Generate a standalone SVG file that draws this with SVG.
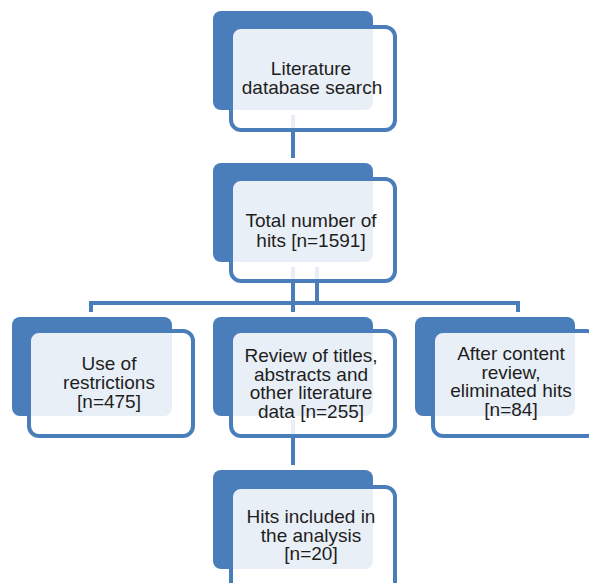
<svg xmlns="http://www.w3.org/2000/svg" width="589" height="583" viewBox="0 0 589 583">
<style>
.back{fill:#4a7ebb}
.front{fill:#ffffff;fill-opacity:0.88;stroke:#4a7ebb;stroke-width:4}
.conn{fill:none;stroke:#4a7ebb;stroke-width:4;stroke-linejoin:miter}
text{font-family:"Liberation Sans",Arial,sans-serif;font-size:19px;fill:#1e1e1e;text-anchor:middle}
</style>
<rect width="589" height="583" fill="#ffffff"/>
<g id="connectors">
<path class="conn" d="M293,115 V158"/>
<path class="conn" d="M293,267 V312"/>
<path class="conn" d="M317,267 V303"/>
<path class="conn" d="M91,312 V303 H518 V312"/>
<path class="conn" d="M293,420 V465"/>
</g>
<g id="n1">
<rect class="back" x="213" y="11" width="160" height="99" rx="8"/>
<rect class="front" x="231" y="27" width="164" height="103" rx="10"/>
<text x="311" y="75">Literature</text>
<text x="312" y="94">database search</text>
</g>
<g id="n2">
<rect class="back" x="213" y="163" width="160" height="99" rx="8"/>
<rect class="front" x="231" y="179" width="164" height="102" rx="10"/>
<text x="311" y="227">Total number of</text>
<text x="311" y="247">hits [n=1591]</text>
</g>
<g id="n3">
<rect class="back" x="12" y="317" width="160" height="99" rx="8"/>
<rect class="front" x="29" y="331" width="164" height="105" rx="10"/>
<text x="109" y="370">Use of</text>
<text x="109" y="389">restrictions</text>
<text x="109" y="408">[n=475]</text>
</g>
<g id="n4">
<rect class="back" x="213" y="317" width="160" height="99" rx="8"/>
<rect class="front" x="231" y="331" width="164" height="105" rx="10"/>
<text x="311" y="362">Review of titles,</text>
<text x="311" y="380.5">abstracts and</text>
<text x="311" y="399">other literature</text>
<text x="311" y="417.5">data [n=255]</text>
</g>
<g id="n5">
<rect class="back" x="415" y="317" width="160" height="99" rx="8"/>
<rect class="front" x="433" y="331" width="164" height="105" rx="10"/>
<text x="511" y="360">After content</text>
<text x="511" y="378.5">review,</text>
<text x="511" y="397">eliminated hits</text>
<text x="511" y="415.5">[n=84]</text>
</g>
<g id="n6">
<rect class="back" x="213" y="470" width="160" height="99" rx="8"/>
<rect class="front" x="231" y="487" width="164" height="105" rx="10"/>
<text x="311" y="523">Hits included in</text>
<text x="311" y="541.5">the analysis</text>
<text x="311" y="560">[n=20]</text>
</g>
</svg>
